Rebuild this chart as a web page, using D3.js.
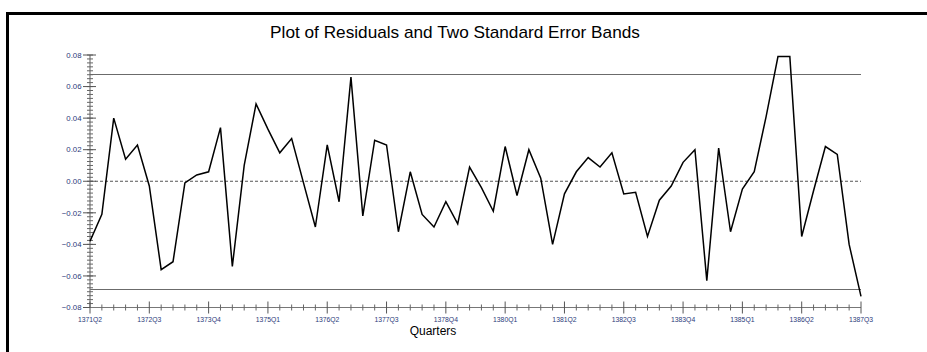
<!DOCTYPE html>
<html>
<head>
<meta charset="utf-8">
<script src="https://cdn.jsdelivr.net/npm/d3@7"></script>
<style>
  html, body { margin: 0; padding: 0; background: #fff; }
  svg { display: block; }
</style>
</head>
<body>
<svg id="chart" width="927" height="352"></svg>
<script>
// ---- data ----
const title = "Plot of Residuals and Two Standard Error Bands";
const xTitle = "Quarters";
const startYear = 1371, startQuarter = 2;
const residuals = [
  -0.038, -0.021, 0.040, 0.014, 0.023, -0.003, -0.056, -0.051, -0.001, 0.004,
   0.006, 0.034, -0.054, 0.010, 0.049, 0.033, 0.018, 0.027, -0.001, -0.029,
   0.023, -0.013, 0.066, -0.022, 0.026, 0.023, -0.032, 0.006, -0.021, -0.029,
  -0.013, -0.027, 0.009, -0.004, -0.019, 0.022, -0.009, 0.020, 0.002, -0.040,
  -0.008, 0.006, 0.015, 0.009, 0.018, -0.008, -0.007, -0.035, -0.012, -0.003,
   0.012, 0.020, -0.063, 0.021, -0.032, -0.005, 0.006, 0.041, 0.079, 0.079,
  -0.035, -0.006, 0.022, 0.017, -0.040, -0.073
];
const bandUpper = 0.068;
const bandLower = -0.068;
const yTicks = [-0.08, -0.06, -0.04, -0.02, 0.00, 0.02, 0.04, 0.06, 0.08];
const majorEvery = 5;

const quarterLabels = residuals.map((d, i) => {
  const q = startQuarter - 1 + i;
  return (startYear + Math.floor(q / 4)) + "Q" + (q % 4 + 1);
});

// ---- layout ----
const svg = d3.select("#chart");
const plotL = 90, plotR = 861, plotT = 55, plotB = 307.5;

const x = d3.scaleLinear().domain([0, residuals.length - 1]).range([plotL, plotR]);
const y = d3.scaleLinear().domain([-0.08, 0.08]).range([plotB, plotT]);

// frame
svg.append("rect")
  .attr("x", 7.5).attr("y", 13.5).attr("width", 960).attr("height", 400)
  .attr("fill", "none").attr("stroke", "#000").attr("stroke-width", 3);

// title
const t = svg.append("text")
  .attr("x", 455).attr("y", 38)
  .attr("text-anchor", "middle")
  .attr("font-family", "Liberation Sans, Arial, sans-serif")
  .attr("font-size", 15)
  .attr("fill", "#000")
  .text(title);
const tl = t.node().getComputedTextLength();
t.attr("font-size", 15 * 370 / tl);

// bands
[bandUpper, bandLower].forEach(v => {
  svg.append("line")
    .attr("x1", plotL).attr("x2", plotR)
    .attr("y1", Math.round(y(v)) + 0.5).attr("y2", Math.round(y(v)) + 0.5)
    .attr("stroke", "#6b6b6b").attr("stroke-width", 1.2);
});

// zero dashed line
svg.append("line")
  .attr("x1", plotL).attr("x2", plotR)
  .attr("y1", y(0)).attr("y2", y(0))
  .attr("stroke", "#555").attr("stroke-width", 1)
  .attr("stroke-dasharray", "3,2");

// y axis with minor ticks
const yMinor = d3.range(-0.08, 0.08001, 0.0025);
const gy = svg.append("g").attr("transform", `translate(${plotL},0)`);
gy.append("line").attr("x1", 0).attr("x2", 0).attr("y1", plotT).attr("y2", plotB)
  .attr("stroke", "#777").attr("stroke-width", 1.2);
gy.selectAll("line.minor").data(yMinor).join("line")
  .attr("class", "minor")
  .attr("x1", -3).attr("x2", 3)
  .attr("y1", d => y(d)).attr("y2", d => y(d))
  .attr("stroke", "#666").attr("stroke-width", 1);
gy.selectAll("line.major").data(yTicks).join("line")
  .attr("class", "major")
  .attr("x1", -7).attr("x2", 6)
  .attr("y1", d => y(d)).attr("y2", d => y(d))
  .attr("stroke", "#555").attr("stroke-width", 1);
gy.selectAll("text").data(yTicks).join("text")
  .attr("x", -8.5).attr("y", d => y(d) + 2.8)
  .attr("text-anchor", "end")
  .attr("font-family", "Liberation Sans, Arial, sans-serif")
  .attr("font-size", 7.8)
  .attr("fill", "#2b3a7a")
  .text(d => d3.format(".2f")(d));

// x axis with minor ticks
const idx = d3.range(residuals.length);
const majors = idx.filter(i => i % majorEvery === 0);
const gx = svg.append("g").attr("transform", `translate(0,${plotB})`);
gx.append("line").attr("x1", plotL).attr("x2", plotR).attr("y1", 0).attr("y2", 0)
  .attr("stroke", "#777").attr("stroke-width", 1.2);
gx.selectAll("line.minor").data(idx.filter(i => i % majorEvery !== 0)).join("line")
  .attr("class", "minor")
  .attr("x1", d => x(d)).attr("x2", d => x(d))
  .attr("y1", -3).attr("y2", 3)
  .attr("stroke", "#666").attr("stroke-width", 1);
gx.selectAll("line.major").data(majors).join("line")
  .attr("class", "major")
  .attr("x1", d => x(d)).attr("x2", d => x(d))
  .attr("y1", -6).attr("y2", 6)
  .attr("stroke", "#555").attr("stroke-width", 1);
gx.selectAll("text").data(majors).join("text")
  .attr("x", d => x(d)).attr("y", 14.5)
  .attr("text-anchor", "middle")
  .attr("font-family", "Liberation Sans, Arial, sans-serif")
  .attr("font-size", 6.8)
  .attr("fill", "#2b3a7a")
  .text(d => quarterLabels[d]);

// x axis title
svg.append("text")
  .attr("x", 433).attr("y", 335)
  .attr("text-anchor", "middle")
  .attr("font-family", "Liberation Sans, Arial, sans-serif")
  .attr("font-size", 12)
  .attr("fill", "#000")
  .text(xTitle);

// residual line
svg.append("path")
  .datum(residuals)
  .attr("fill", "none")
  .attr("stroke", "#000")
  .attr("stroke-width", 1.5)
  .attr("stroke-linejoin", "miter")
  .attr("d", d3.line().x((d, i) => x(i)).y(d => y(d)));
</script>
</body>
</html>
